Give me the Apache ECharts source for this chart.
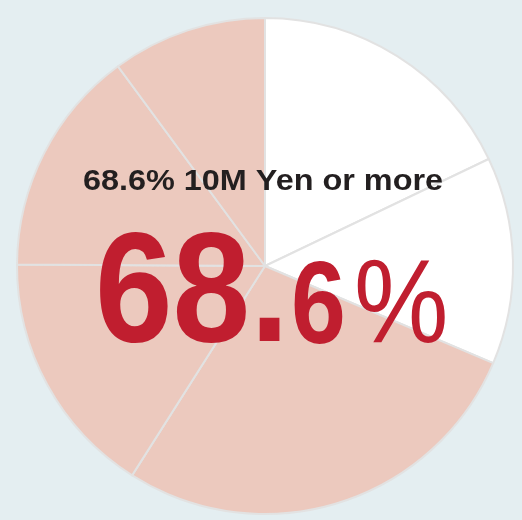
<!DOCTYPE html>
<html>
<head>
<meta charset="utf-8">
<script src="https://cdn.jsdelivr.net/npm/echarts@6/dist/echarts.min.js"></script>
<style>
    html, body { margin: 0; padding: 0; background: #e4eef1; }
    #chart { width: 522px; height: 520px; }
</style>
</head>
<body>
<div id="chart"></div>
<script>
// 数据
var segments = ['Segment 1', 'Segment 2', 'Segment 3', 'Segment 4', 'Segment 5', 'Segment 6'];
var shares = [17.9, 13.5, 27.6, 16.1, 14.8, 10.1];
var isTarget = [false, false, true, true, true, true];
var targetLabel = '10M Yen or more';

(function () {
    var myChart = echarts.init(document.getElementById('chart'));

    // 10M以上の合計
    var total = 0;
    shares.forEach(function (v, i) { if (isTarget[i]) total += v; });
    var pct = total.toFixed(1);
    var intPart = pct.split('.')[0];
    var decPart = pct.split('.')[1];

    var data = shares.map(function (v, i) {
        return {
            name: segments[i],
            value: v,
            itemStyle: { color: isTarget[i] ? '#ecc9be' : '#ffffff' }
        };
    });

    var option = {
        backgroundColor: '#e4eef1',
        animation: false,
        series: [
            {
                type: 'pie',
                center: [265, 266],
                radius: [0, 248],
                startAngle: 90,
                clockwise: true,
                silent: true,
                label: { show: false },
                labelLine: { show: false },
                itemStyle: {
                    borderColor: '#e2e2e2',
                    borderWidth: 2
                },
                data: data
            }
        ],
        graphic: [
            {
                type: 'text',
                z: 100,
                x: 263,
                y: 182,
                scaleX: 1.08,
                style: {
                    text: pct + '% ' + targetLabel,
                    font: 'bold 30px "Liberation Sans", Arial, sans-serif',
                    fill: '#231f20',
                    textAlign: 'center',
                    textVerticalAlign: 'middle'
                }
            },
            {
                // 大きい数字（整数部）
                type: 'text',
                z: 100,
                x: 95,
                y: 298,
                scaleX: 0.9,
                style: {
                    text: intPart + '.',
                    font: 'bold 155px "Liberation Sans", Arial, sans-serif',
                    fill: '#c01e2f',
                    textAlign: 'left',
                    textVerticalAlign: 'middle'
                }
            },
            {
                type: 'text',
                z: 100,
                x: 291,
                y: 311,
                scaleX: 0.85,
                style: {
                    text: decPart,
                    font: 'bold 116px "Liberation Sans", Arial, sans-serif',
                    fill: '#c01e2f',
                    textAlign: 'left',
                    textVerticalAlign: 'middle'
                }
            },
            {
                type: 'text',
                z: 100,
                x: 354,
                y: 309,
                scaleX: 0.9,
                style: {
                    text: '%',
                    font: '118px "Liberation Sans", Arial, sans-serif',
                    fill: '#c01e2f',
                    textAlign: 'left',
                    textVerticalAlign: 'middle'
                }
            }
        ]
    };
    myChart.setOption(option);
})();
</script>
</body>
</html>
